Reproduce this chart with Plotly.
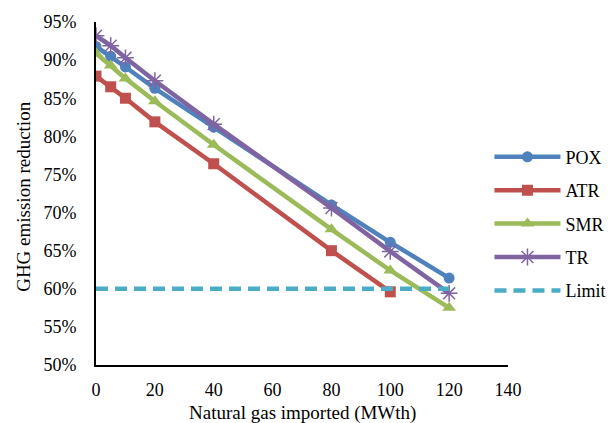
import plotly.graph_objects as go

# Natural gas imported (MWth)
gas_imported = [0, 5, 10, 20, 40, 80, 100, 120]

# GHG emission reduction for each reforming route (fraction)
pox = [0.918, 0.905, 0.891, 0.863, 0.812, 0.710, 0.661, 0.614]
atr = [0.879, 0.865, 0.850, 0.819, 0.764, 0.650, 0.596]
smr = [0.909, 0.893, 0.876, 0.846, 0.789, 0.678, 0.624, 0.575]
tr = [0.932, 0.919, 0.903, 0.873, 0.816, 0.706, 0.649, 0.594]

limit_x = [0, 120]
limit_y = [0.60, 0.60]

x_ticks = [0, 20, 40, 60, 80, 100, 120, 140]
y_ticks = [0.50, 0.55, 0.60, 0.65, 0.70, 0.75, 0.80, 0.85, 0.90, 0.95]

x_title = "Natural gas imported (MWth)"
y_title = "GHG emission reduction"

FONT = "Liberation Serif"

fig = go.Figure()

series = [
    ("POX", gas_imported, pox, "#4F81BD", dict(symbol="circle", size=11)),
    ("ATR", gas_imported[:len(atr)], atr, "#C0504D", dict(symbol="square", size=11)),
    ("SMR", gas_imported, smr, "#9BBB59", dict(symbol="triangle-up", size=12)),
    ("TR", gas_imported, tr, "#8064A2",
     dict(symbol="asterisk-open", size=14, line=dict(width=1.5, color="#8064A2"))),
]

for name, xs, ys, color, marker in series:
    fig.add_trace(go.Scatter(
        x=xs, y=ys, name=name, legendgroup=name,
        mode="lines+markers",
        line=dict(color=color, width=4.5),
        marker=dict(color=color, **marker),
    ))

fig.add_trace(go.Scatter(
    x=limit_x, y=limit_y, name="Limit", legendgroup="Limit",
    mode="lines",
    line=dict(color="#4BACC6", width=4.5, dash="12px,7px"),
))

fig.update_layout(
    width=612, height=423,
    margin=dict(l=96, r=104, t=22, b=58, autoexpand=False),
    paper_bgcolor="white", plot_bgcolor="white",
    font=dict(family=FONT, size=18, color="black"),
    legend=dict(
        x=0.955, y=0.66, xanchor="left", yanchor="top",
        font=dict(family=FONT, size=18, color="black"),
        tracegroupgap=7, itemwidth=66, bgcolor="rgba(0,0,0,0)",
    ),
)

# Axis titles as paper-anchored text so they sit where the frame needs them
fig.add_annotation(
    text=x_title, xref="paper", yref="paper",
    x=0.5, y=-0.102, xanchor="center", yanchor="top",
    showarrow=False, font=dict(family=FONT, size=19, color="black"),
)
fig.add_annotation(
    text=y_title, xref="paper", yref="paper",
    x=-0.175, y=0.49, xanchor="center", yanchor="middle", textangle=-90,
    showarrow=False, font=dict(family=FONT, size=19, color="black"),
)

fig.update_xaxes(
    range=[0, 140], tickvals=x_ticks,
    showgrid=False, zeroline=False, automargin=False,
    showline=True, linecolor="black", linewidth=2,
    ticks="", ticklabelstandoff=7,
    tickfont=dict(family=FONT, size=18),
)

fig.update_yaxes(
    range=[0.50, 0.95], tickvals=y_ticks, tickformat=".0%",
    showgrid=False, zeroline=False, automargin=False,
    showline=True, linecolor="black", linewidth=2,
    ticks="", ticklabelstandoff=14,
    tickfont=dict(family=FONT, size=18),
)

fig.write_html("out.html")
